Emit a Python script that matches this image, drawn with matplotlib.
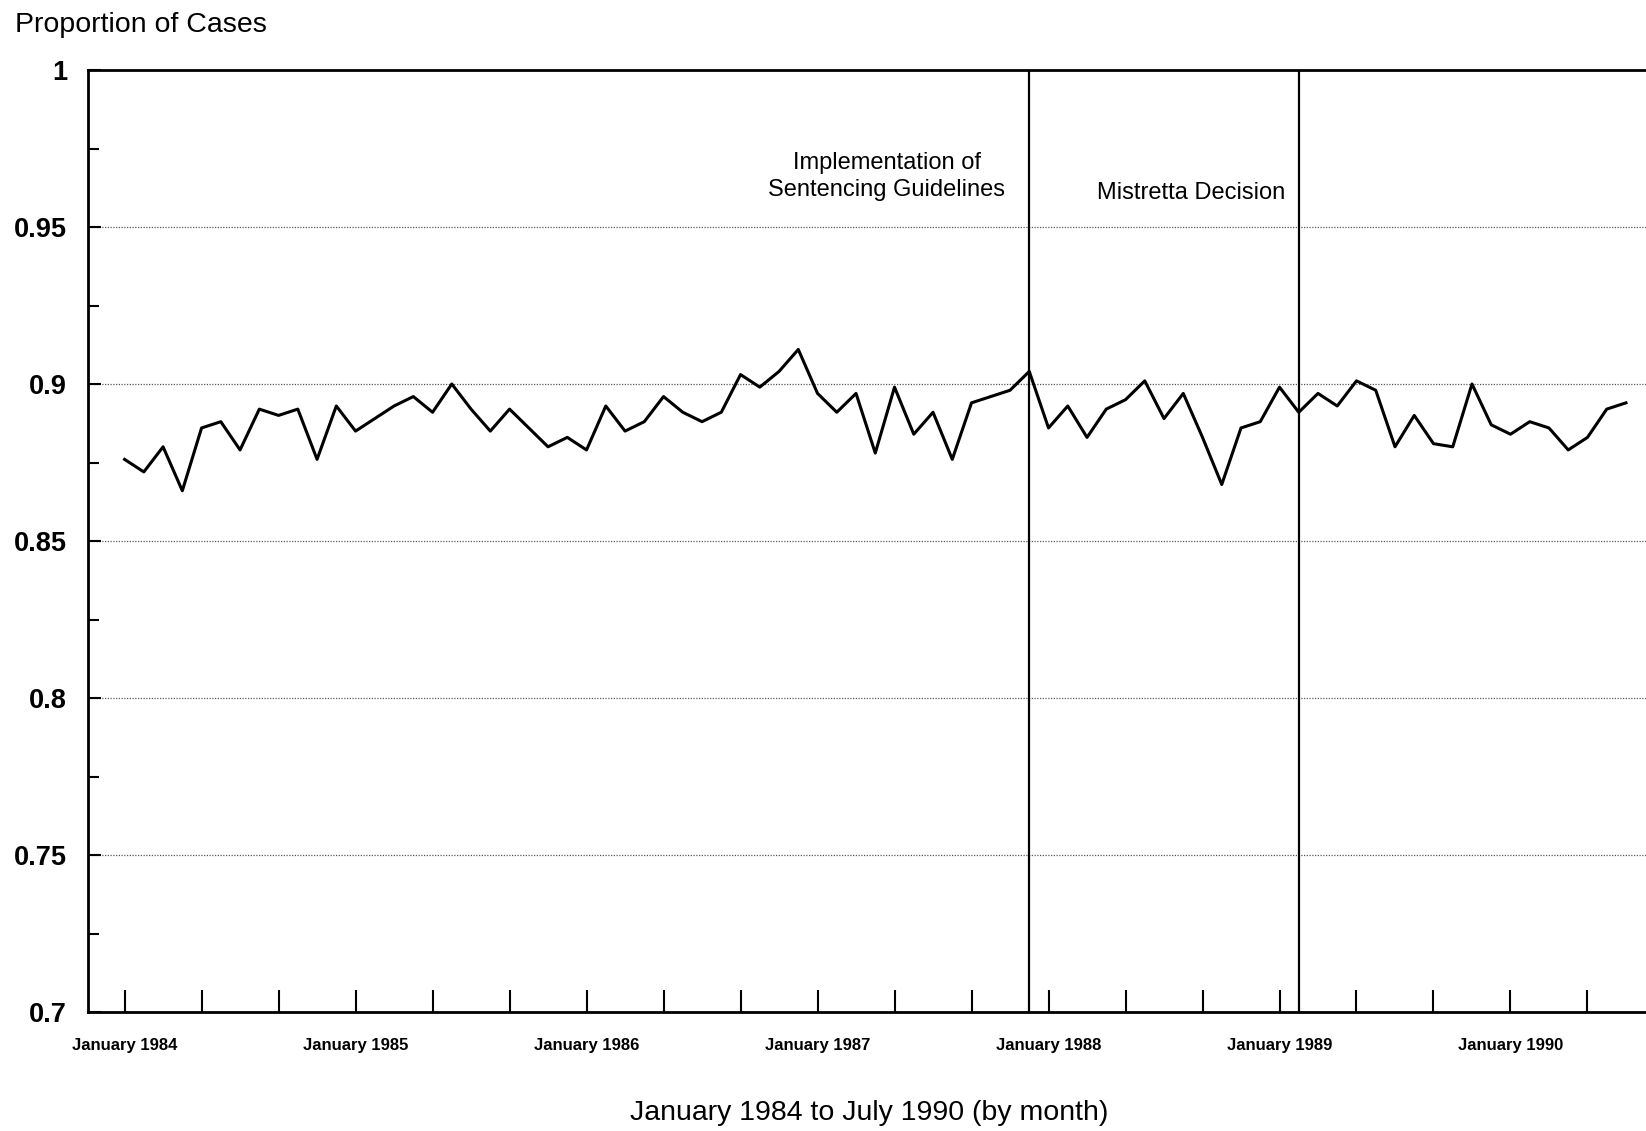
import matplotlib
matplotlib.use("Agg")
import matplotlib.pyplot as plt
import numpy as np

plt.rcParams['font.family'] = ['Liberation Sans', 'DejaVu Sans']

# Monthly proportion of cases, January 1984 (month 0) to July 1990 (month 78)
proportion = [
    0.876, 0.872, 0.880, 0.866, 0.886, 0.888, 0.879, 0.892, 0.890, 0.892,
    0.876, 0.893, 0.885, 0.889, 0.893, 0.896, 0.891, 0.900, 0.892, 0.885,
    0.892, 0.886, 0.880, 0.883, 0.879, 0.893, 0.885, 0.888, 0.896, 0.891,
    0.888, 0.891, 0.903, 0.899, 0.904, 0.911, 0.897, 0.891, 0.897, 0.878,
    0.899, 0.884, 0.891, 0.876, 0.894, 0.896, 0.898, 0.904, 0.886, 0.893,
    0.883, 0.892, 0.895, 0.901, 0.889, 0.897, 0.883, 0.868, 0.886, 0.888,
    0.899, 0.891, 0.897, 0.893, 0.901, 0.898, 0.880, 0.890, 0.881, 0.880,
    0.900, 0.887, 0.884, 0.888, 0.886, 0.879, 0.883, 0.892, 0.894,
]
months = np.arange(len(proportion))

tick_months = list(range(0, 79, 4))
year_label_months = [0, 12, 24, 36, 48, 60, 72]
year_labels = ["January 1984", "January 1985", "January 1986", "January 1987",
               "January 1988", "January 1989", "January 1990"]

event_months = [47, 61]
event_labels = ["Implementation of\nSentencing Guidelines", "Mistretta Decision"]
event_label_x = [39.6, 55.4]
event_label_y = [0.966, 0.9607]

y_major = [0.7, 0.75, 0.8, 0.85, 0.9, 0.95, 1.0]
y_major_labels = ["0.7", "0.75", "0.8", "0.85", "0.9", "0.95", "1"]
y_minor = [0.725, 0.775, 0.825, 0.875, 0.925, 0.975]

W, H = 1646, 1131
fig = plt.figure(figsize=(W / 100, H / 100), dpi=100)
ax = fig.add_axes([88 / W, 1 - 1012 / H, 1 - 88 / W, (1012 - 70) / H])

ax.plot(months, proportion, color='black', linewidth=2.2, zorder=3)

for m in event_months:
    ax.axvline(m, color='black', linewidth=1.6, zorder=2)

for x, y, t in zip(event_label_x, event_label_y, event_labels):
    ax.text(x, y, t, ha='center', va='center', fontsize=17, linespacing=1.3)

ax.set_xlim(-1.9, 79.04)
ax.set_ylim(0.7, 1.0)

ax.set_yticks(y_major)
ax.set_yticklabels(y_major_labels, fontsize=19.5, fontweight='bold')
ax.set_yticks(y_minor, minor=True)
ax.tick_params(axis='y', which='major', direction='in', length=9, width=1.5, pad=15)
ax.tick_params(axis='y', which='minor', direction='in', length=8, width=1.5)

ax.set_xticks(tick_months)
xlabels = [year_labels[year_label_months.index(m)] if m in year_label_months else ''
           for m in tick_months]
ax.set_xticklabels(xlabels, fontsize=12, fontweight='bold')
ax.tick_params(axis='x', which='major', direction='in', length=16, width=1.5, pad=19)

ax.yaxis.grid(True, which='major', linestyle=(0, (1, 1.2)), color='0.35', linewidth=0.9)
ax.set_axisbelow(True)

for side in ['left', 'top', 'bottom']:
    ax.spines[side].set_linewidth(2.0)
ax.spines['right'].set_visible(False)

fig.text(15 / W, 1 - 25 / H, "Proportion of Cases", fontsize=20.5, ha='left', va='center')
fig.text(869 / W, 1 - 1113 / H, "January 1984 to July 1990 (by month)", fontsize=20.5,
         ha='center', va='center')

fig.savefig("out.png", dpi=100, facecolor='white')
